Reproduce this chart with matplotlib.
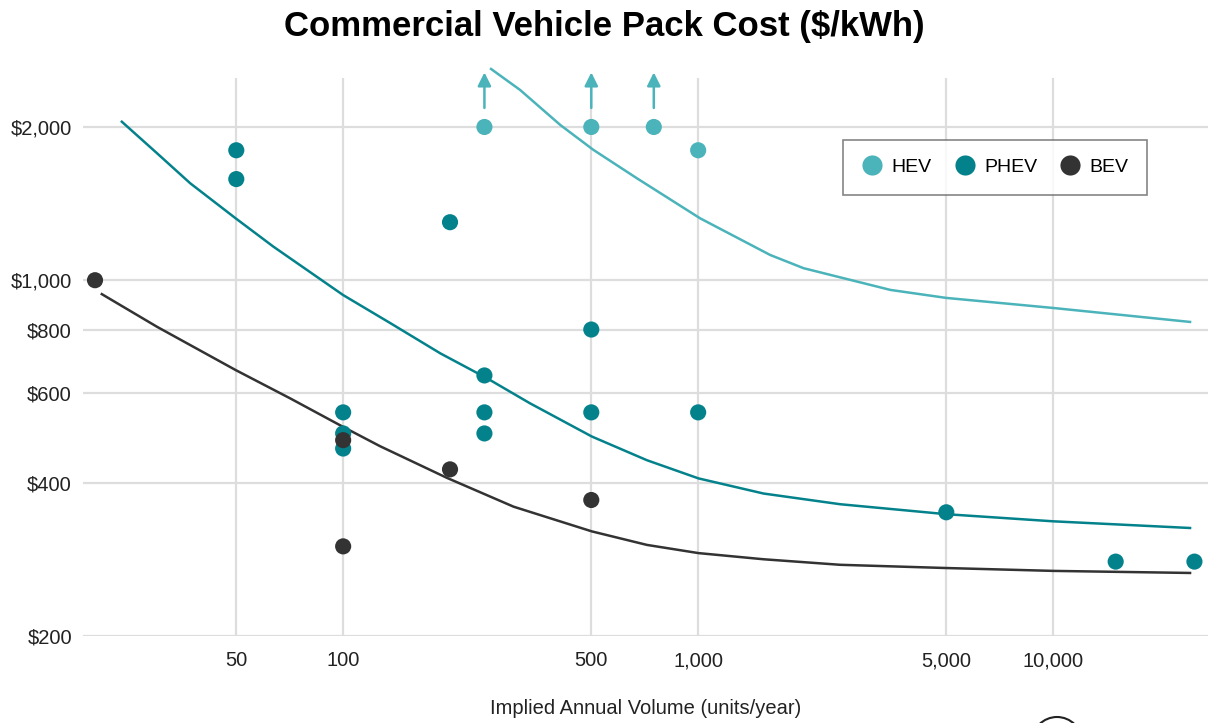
import numpy as np
import matplotlib
matplotlib.use("Agg")
import matplotlib.pyplot as plt
from matplotlib.lines import Line2D
from matplotlib.patches import Ellipse

plt.rcParams['font.family'] = ['Liberation Sans', 'DejaVu Sans']

# colours
hev_color = "#4bb3ba"
phev_color = "#04828c"
bev_color = "#333333"

# scatter data (units/year, $/kWh)
hev_x = [250, 500, 750, 1000]
hev_y = [2000, 2000, 2000, 1800]
hev_arrow_x = [250, 500, 750]   # values that sit above the chart
arrow_from, arrow_to = 2180, 2560

phev_x = [50, 50, 200, 500, 250, 250, 250, 500, 1000, 100, 100, 100, 5000, 15000, 25000]
phev_y = [1800, 1580, 1300, 800, 650, 550, 500, 550, 550, 550, 500, 467, 350, 280, 280]

bev_x = [20, 100, 100, 200, 500]
bev_y = [1000, 485, 300, 425, 370]

# fitted curves
hev_curve_x = [261, 315, 409, 507, 672, 1013, 1595, 1980, 3480, 5000, 10000, 24300]
hev_curve_y = [2600, 2365, 2018, 1803, 1586, 1323, 1121, 1056, 957, 923, 882, 828]

phev_curve_x = [23.8, 29.9, 37.1, 49.8, 63.6, 100, 136, 188, 254,
                336, 502, 717, 1002, 1528, 2512, 5000, 10000, 24300]
phev_curve_y = [2048, 1776, 1550, 1323, 1164, 935, 823, 718, 642,
                573, 493, 443, 408, 381, 363, 347, 336, 326]

bev_curve_x = [20.9, 29.9, 49.8, 70.9, 100, 127, 196, 302, 502, 717,
               1002, 1528, 2512, 5000, 10000, 24300]
bev_curve_y = [939, 810, 666, 586, 515, 472, 409, 359, 321, 302,
               291, 283, 276, 272, 268.5, 266]

x_ticks = [50, 100, 500, 1000, 5000, 10000]
x_labels = ["50", "100", "500", "1,000", "5,000", "10,000"]
y_ticks = [200, 400, 600, 800, 1000, 2000]
y_labels = ["$200", "$400", "$600", "$800", "$1,000", "$2,000"]

fig = plt.figure(figsize=(12.09, 7.23), dpi=100)
ax = fig.add_axes([83/1209, 1 - 636/723, 1125/1209, 558/723])
ax.set_xscale("log")
ax.set_yscale("log")
ax.set_xlim(18.5, 27300)
ax.set_ylim(200, 2496)

# curves
ax.plot(hev_curve_x, hev_curve_y, color=hev_color, lw=1.8, clip_on=False, zorder=3)
ax.plot(phev_curve_x, phev_curve_y, color=phev_color, lw=1.8, clip_on=False, zorder=3)
ax.plot(bev_curve_x, bev_curve_y, color=bev_color, lw=1.8, clip_on=False, zorder=3)

# points
ax.scatter(hev_x, hev_y, s=135, color=hev_color, edgecolor="none", zorder=4, clip_on=False)
ax.scatter(phev_x, phev_y, s=135, color=phev_color, edgecolor="none", zorder=4, clip_on=False)
ax.scatter(bev_x, bev_y, s=135, color=bev_color, edgecolor="none", zorder=5, clip_on=False)

for xv in hev_arrow_x:
    ax.annotate("", xy=(xv, arrow_to), xytext=(xv, arrow_from),
                arrowprops=dict(arrowstyle="-|>", color=hev_color, lw=1.8,
                                mutation_scale=20, shrinkA=0, shrinkB=0),
                annotation_clip=False)

ax.set_xticks(x_ticks)
ax.set_xticklabels(x_labels)
ax.set_yticks(y_ticks)
ax.set_yticklabels(y_labels)
ax.xaxis.set_minor_locator(matplotlib.ticker.NullLocator())
ax.yaxis.set_minor_locator(matplotlib.ticker.NullLocator())
ax.tick_params(length=0, labelsize=14.5, colors="#222222")
ax.tick_params(axis="x", pad=11)
ax.tick_params(axis="y", pad=8)
ax.grid(True, color="#dddddd", lw=1.6)
ax.set_axisbelow(True)
for s in ax.spines.values():
    s.set_visible(False)

ax.set_xlabel("Implied Annual Volume (units/year)", fontsize=14.5, color="#222222", labelpad=21)
fig.suptitle("Commercial Vehicle Pack Cost ($/kWh)", fontsize=25, fontweight="bold",
             x=0.5, y=1 - 10/723, va="top")

handles = [Line2D([], [], ls="none", marker="o", markersize=14.5, color=c, markeredgecolor="none")
           for c in (hev_color, phev_color, bev_color)]
leg = ax.legend(handles, ["HEV", "PHEV", "BEV"], ncol=3, loc="upper left",
                bbox_to_anchor=(760/1125, (636-140)/558), borderaxespad=0,
                fontsize=14, frameon=True, fancybox=False, handletextpad=0.45,
                columnspacing=1.15, borderpad=0.95, handlelength=1.1)
leg.get_frame().set_edgecolor("#666666")
leg.get_frame().set_linewidth(1.2)

# partial logo at bottom edge
fig.patches.append(Ellipse((1057/1209, 1 - 742/723), 50/1209, 50/723, fill=False,
                           edgecolor="#222222", lw=1.5, transform=fig.transFigure, figure=fig))

fig.savefig("out.png", dpi=100)
